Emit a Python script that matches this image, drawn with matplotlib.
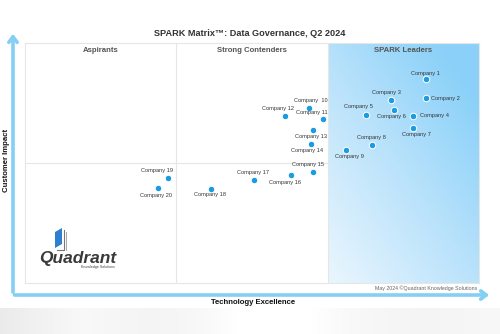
import numpy as np
import matplotlib
matplotlib.use("Agg")
import matplotlib.pyplot as plt
from matplotlib.patches import Polygon, FancyArrowPatch
from matplotlib.colors import LinearSegmentedColormap

plt.rcParams['font.family'] = ['Liberation Sans', 'DejaVu Sans']

# ---- data ----
companies = ["Company 1", "Company 2", "Company 3", "Company 4", "Company 5",
             "Company 6", "Company 7", "Company 8", "Company 9", "Company  10",
             "Company 11", "Company 12", "Company 13", "Company 14", "Company 15",
             "Company 16", "Company 17", "Company 18", "Company 19", "Company 20"]
tech_excellence = [8.83, 8.83, 8.07, 8.54, 7.50, 8.13, 8.54, 7.64, 7.08, 6.26,
                   6.56, 5.72, 6.34, 6.29, 6.34, 5.87, 5.04, 4.10, 3.16, 2.94]
customer_impact = [8.49, 7.70, 7.63, 6.97, 7.01, 7.21, 6.46, 5.75, 5.55, 7.30,
                   6.82, 6.95, 6.36, 5.79, 4.61, 4.51, 4.29, 3.92, 4.36, 3.95]
quadrants = ["Aspirants", "Strong Contenders", "SPARK Leaders"]
title = "SPARK Matrix\u2122: Data Governance, Q2 2024"

# label placement (pixel offsets, horizontal alignment)
label_pos = [(0, 6, 'center'), (5, 0, 'left'), (-4.5, 7.5, 'center'), (7, 0, 'left'),
             (-7.5, 8.5, 'center'), (-2.5, -7, 'center'), (4, -6.5, 'center'),
             (0, 8, 'center'), (3, -7, 'center'), (1.5, 7, 'center'),
             (-11, 6.5, 'center'), (-6.5, 8, 'center'), (-2, -6.5, 'center'),
             (-3.5, -6, 'center'), (-4.5, 7.5, 'center'), (-6.5, -7.5, 'center'),
             (-1, 8, 'center'), (-1.5, -6, 'center'), (-11, 7.5, 'center'),
             (-2, -7.5, 'center')]

W, H = 500, 334
fig = plt.figure(figsize=(W / 100, H / 100), dpi=100)

# background / decoration axes in pixel coordinates
bg = fig.add_axes([0, 0, 1, 1], zorder=0)
bg.set_xlim(0, W)
bg.set_ylim(H, 0)
bg.axis('off')

# bottom grey band
xs = np.linspace(0, 1, 300)
band = 0.92 + 0.06 * np.clip(xs * 6, 0, 1)
band = band - 0.02 * np.exp(-((xs - 0.3) / 0.12) ** 2) + 0.04 * np.exp(-((xs - 0.55) / 0.1) ** 2)
band = band - 0.02 * np.exp(-((xs - 0.85) / 0.15) ** 2)
band_img = np.tile(band, (20, 1))
bg.imshow(np.dstack([band_img] * 3).clip(0, 1), extent=[0, W, H, 308], aspect='auto', zorder=0)

arrow_c = '#84cff3'
bg.add_patch(FancyArrowPatch((13, 295), (13, 31), arrowstyle='->,head_length=4,head_width=3',
                             color=arrow_c, lw=2.6, mutation_scale=1, zorder=2))
bg.add_patch(FancyArrowPatch((11.7, 295), (492, 295), arrowstyle='->,head_length=4,head_width=3',
                             color=arrow_c, lw=2.6, mutation_scale=1, zorder=2))

bg.text(6.5, 160, "Customer Impact", rotation=90, ha='center', va='center',
        fontsize=5.6, fontweight='bold', color='#111111')
bg.text(253, 302, "Technology Excellence", ha='center', va='center',
        fontsize=5.6, fontweight='bold', color='#111111')
bg.text(250, 34, title, ha='center', va='center', fontsize=6.6, fontweight='bold', color='#333333')
bg.text(477, 288.5, "May 2024 \u00a9Quadrant Knowledge Solutions", ha='right', va='center',
        fontsize=3.8, color='#666666')

# main axes
ax = fig.add_axes([25 / W, (H - 283) / H, 454 / W, 240 / H], zorder=1)
ax.set_xticks([])
ax.set_yticks([])
for s in ax.spines.values():
    s.set_color('#e6e6e6')
    s.set_linewidth(0.8)

# leaders gradient
gx, gy = np.meshgrid(np.linspace(0, 1, 200), np.linspace(0, 1, 200))
t = np.clip(0.55 * gx + 0.6 * gy, 0, 1)
cmap = LinearSegmentedColormap.from_list('lead', ['#eaf6fe', '#b9e2fb', '#80cdf8'])
ax.imshow(t, cmap=cmap, extent=[20 / 3, 10, 0, 10], origin='lower', aspect='auto',
          zorder=0, vmin=0, vmax=1.1)
ax.set_xlim(0, 10)
ax.set_ylim(0, 10)

ax.axvline(10 / 3, color='#e6e6e6', lw=0.8, zorder=1)
ax.axvline(20 / 3, color='#e6e6e6', lw=0.8, zorder=1)
ax.plot([0, 20 / 3], [5, 5], color='#e6e6e6', lw=0.8, zorder=1)

for i, q in enumerate(quadrants):
    ax.text((i + 0.5) * 10 / 3, 9.7, q, ha='center', va='center', fontsize=5.6,
            fontweight='bold', color='#555555', zorder=3)

# points
ax.scatter(tech_excellence, customer_impact, s=22, color='#1b9ce0', edgecolors='white',
           linewidths=0.7, zorder=5)
for name, x, y, (dx, dy, ha) in zip(companies, tech_excellence, customer_impact, label_pos):
    ax.annotate(name, (x, y), xytext=(dx, dy), textcoords='offset pixels', ha=ha,
                va='center', fontsize=4.1, color='#333333', zorder=6)

# logo on a transparent overlay
top = fig.add_axes([0, 0, 1, 1], zorder=2)
top.set_xlim(0, W)
top.set_ylim(H, 0)
top.axis('off')
top.patch.set_alpha(0)
book = Polygon([[55, 248], [55, 232], [62, 228], [62, 244]], closed=True,
               facecolor='#2f7fd0', edgecolor='none', zorder=3)
top.add_patch(book)
top.plot([64, 64, 57], [230, 250, 250], color='#777777', lw=0.8, zorder=3)
top.plot([66, 66], [232, 250], color='#999999', lw=0.6, zorder=3)
top.text(78, 258, "Quadrant", ha='center', va='center', fontsize=12.5, fontweight='bold',
         style='italic', color='#3a3a3a', zorder=3)
top.text(98, 267, "Knowledge Solutions", ha='center', va='center', fontsize=2.6,
         color='#444444', zorder=3)

fig.savefig("out.png", dpi=100)
